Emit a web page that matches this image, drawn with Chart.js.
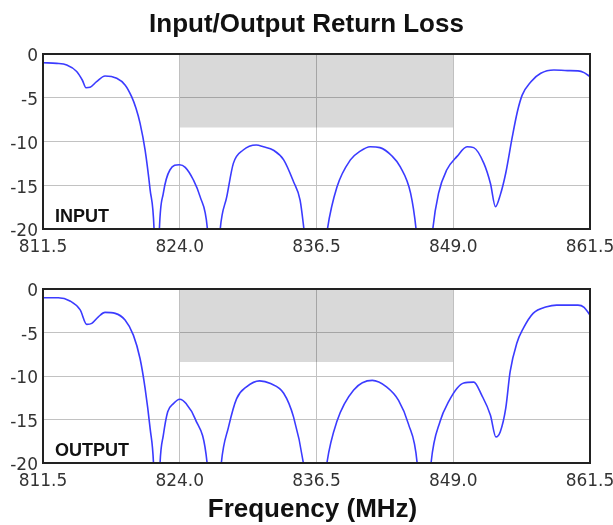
<!DOCTYPE html>
<html>
<head>
<meta charset="utf-8">
<script src="https://cdn.jsdelivr.net/npm/chart.js@4.4.1/dist/chart.umd.min.js"></script>
<style>
  body { margin: 0; background: #fff; font-family: "Liberation Sans", Arial, sans-serif; }
  #wrap { position: relative; width: 613px; height: 525px; overflow: hidden; }
  .title { position: absolute; left: 0; width: 613px; text-align: center; font-weight: bold; font-size: 26px; line-height: 26px; color: #111; z-index: 2; }
  .panel { position: absolute; left: 0; width: 630px; }
</style>
</head>
<body>
<div id="wrap">
  <div class="panel" style="top:0px;height:262px"><canvas id="inputChart" width="630" height="262"></canvas></div>
  <div class="panel" style="top:270px;height:225px"><canvas id="outputChart" width="630" height="225"></canvas></div>
  <div class="title" style="top:10px">Input/Output Return Loss</div>
  <div class="title" style="top:495px;left:6px">Frequency (MHz)</div>
</div>
<script>
// tick labels
const xTicks = [811.5, 824.0, 836.5, 849.0, 861.5];
const yMin = -20, yMax = 0, yStep = 5;

// gray passband box (MHz and dB)
const bandFreq = [824.0, 849.0];
const bandLevel = [-8.4, -8.4];

// INPUT return loss (values below -20 are the nulls, clipped)
const inputFreq = [811.5, 812.75, 813.67, 814.58, 815.1, 815.43, 815.8, 816.4, 817.17, 818.24,
  819.0, 819.6, 820.0, 820.37, 820.83, 821.29, 821.65, 821.9, 822.14, 822.5,
  823.1, 823.97, 824.5, 825.25, 825.86, 826.53, 827.1, 827.7, 828.3, 828.9,
  829.8, 830.99, 831.65, 832.57, 833.5, 834.4, 835.0, 835.35, 836.4, 837.5,
  838.37, 839.6, 840.5, 841.4, 842.3, 843.4, 844.16, 845.1, 845.6, 846.4,
  847.13, 847.66, 848.4, 849.35, 850.26, 850.87, 851.8, 852.4, 852.86, 853.3,
  853.8, 854.4, 854.86, 855.3, 856.1, 857.0, 858.2, 859.45, 860.4, 860.96, 861.5];
const inputLoss = [-1.0, -1.07, -1.26, -2.0, -3.0, -3.85, -3.8, -3.16, -2.51, -2.78,
  -3.54, -4.88, -6.2, -7.9, -10.97, -15.5, -20, -32, -20, -15.9,
  -13.26, -12.65, -12.95, -14.4, -16.3, -20, -32, -20, -16.3, -12.5,
  -10.97, -10.4, -10.6, -11.0, -12.1, -14.6, -16.7, -20, -32, -20,
  -15.2, -12.1, -11.1, -10.6, -10.7, -11.66, -12.9, -15.9, -20, -32,
  -20, -15.9, -13.26, -11.7, -10.6, -10.7, -12.5, -14.8, -17.45, -16.1,
  -13.6, -9.45, -6.6, -4.7, -3.16, -2.2, -1.83, -1.9, -1.93, -2.13, -2.59];

// OUTPUT return loss
const outputFreq = [811.5, 812.9, 813.97, 814.9, 815.5, 815.96, 816.56, 817.17, 818.1, 819.0,
  819.76, 820.37, 820.83, 821.3, 821.6, 821.9, 822.2, 822.5, 822.9, 823.4,
  824.0, 824.6, 825.4, 826.5, 827.15, 827.8, 828.45, 829.2, 830.1, 831.3,
  832.3, 833.5, 834.4, 835.3, 836.4, 837.45, 838.37, 839.9, 841.6, 842.9,
  844.0, 844.9, 845.7, 846.3, 846.97, 847.8, 848.6, 849.35, 849.96, 850.87,
  851.6, 852.4, 852.9, 853.3, 853.8, 854.2, 854.8, 855.4, 856.3, 857.55,
  858.45, 860.4, 860.96, 861.5];
const outputLoss = [-1.0, -1.0, -1.38, -2.4, -4.07, -3.95, -3.2, -2.69, -2.8, -3.57,
  -5.3, -7.99, -11.4, -16.1, -20, -32, -20, -16.8, -14.1, -13.2,
  -12.67, -13.2, -14.9, -20, -32, -20, -15.9, -12.6, -11.25, -10.56,
  -10.87, -11.98, -14.7, -20, -32, -20, -15.2, -11.6, -10.5, -11.25,
  -12.8, -15.5, -20, -32, -20, -15.2, -12.9, -11.4, -10.8, -10.7,
  -12.2, -14.5, -17.0, -16.4, -13.7, -9.5, -6.26, -4.53, -2.8, -2.04,
  -1.85, -1.85, -2.1, -3.0];

const FONT = '"Liberation Sans", Arial, sans-serif';
const TICK_FONT = '"DejaVu Sans", Verdana, sans-serif';

// black frame round the plot area + the INPUT / OUTPUT tag
const framePlugin = {
  id: 'frame',
  afterDraw(chart, args, opts) {
    const a = chart.chartArea, c = chart.ctx;
    c.save();
    c.strokeStyle = '#222';
    c.lineWidth = 2;
    c.strokeRect(a.left, a.top, a.right - a.left, a.bottom - a.top);
    c.fillStyle = '#111';
    c.font = 'bold 18px ' + FONT;
    c.textBaseline = 'alphabetic';
    c.fillText(opts.text, a.left + 12, a.bottom - opts.lift);
    c.restore();
  }
};

function makeChart(id, freq, loss, tag, padTop, xHeight, lift) {
  const pts = freq.map((f, i) => ({ x: f, y: loss[i] }));
  const band = bandFreq.map((f, i) => ({ x: f, y: bandLevel[i] }));
  return new Chart(document.getElementById(id), {
    type: 'line',
    data: {
      datasets: [{
        data: band,
        borderWidth: 0,
        pointRadius: 0,
        fill: 'end',
        backgroundColor: 'rgba(0,0,0,0.15)'
      }, {
        data: pts,
        borderColor: '#3b3bff',
        borderWidth: 1.6,
        pointRadius: 0,
        fill: false,
        cubicInterpolationMode: 'monotone'
      }]
    },
    options: {
      responsive: false,
      animation: false,
      // canvas is 630 wide, the page cuts it at 613 -> plot ends at x=590
      layout: { padding: { top: padTop, right: 40, left: 0, bottom: 0 } },
      plugins: {
        legend: { display: false },
        tooltip: { enabled: false },
        frame: { text: tag, lift: lift }
      },
      scales: {
        x: {
          type: 'linear',
          min: xTicks[0],
          max: xTicks[xTicks.length - 1],
          afterBuildTicks: s => { s.ticks = xTicks.map(v => ({ value: v })); },
          afterFit: s => { s.height = xHeight; },
          grid: { color: '#c2c2c2', drawTicks: false },
          border: { display: false },
          ticks: {
            padding: 8,
            color: '#333',
            font: { family: TICK_FONT, size: 17 },
            maxRotation: 0,
            callback: v => v.toFixed(1)
          }
        },
        y: {
          min: yMin,
          max: yMax,
          afterFit: s => { s.width = 43; },
          grid: { color: '#c2c2c2', drawTicks: false },
          border: { display: false },
          ticks: {
            stepSize: yStep,
            padding: 5,
            labelOffset: 3,
            color: '#333',
            font: { family: TICK_FONT, size: 17 }
          }
        }
      }
    },
    plugins: [framePlugin]
  });
}

makeChart('inputChart', inputFreq, inputLoss, 'INPUT', 54, 33, 7);
makeChart('outputChart', outputFreq, outputLoss, 'OUTPUT', 19, 32, 7);
</script>
</body>
</html>
